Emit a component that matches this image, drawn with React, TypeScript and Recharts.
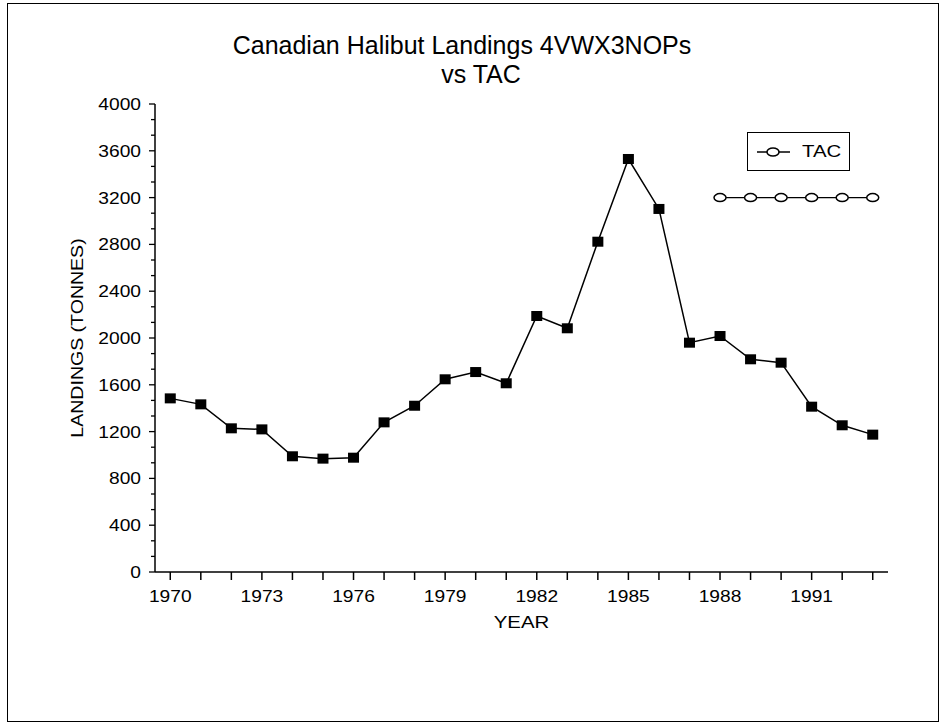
import React from "react";
import { LineChart, Line, XAxis, YAxis, Legend, Label } from "recharts";

const years = [1970, 1971, 1972, 1973, 1974, 1975, 1976, 1977, 1978, 1979, 1980, 1981, 1982, 1983, 1984, 1985, 1986, 1987, 1988, 1989, 1990, 1991, 1992, 1993];
const landings = [1484, 1433, 1228, 1219, 989, 969, 977, 1279, 1421, 1647, 1709, 1613, 2188, 2083, 2823, 3530, 3103, 1960, 2017, 1818, 1789, 1413, 1254, 1174];
const tacYears = [1988, 1989, 1990, 1991, 1992, 1993];
const tacValues = [3200, 3200, 3200, 3200, 3200, 3200];
const xLabelYears = [1970, 1973, 1976, 1979, 1982, 1985, 1988, 1991];
const yMajorTicks = [0, 400, 800, 1200, 1600, 2000, 2400, 2800, 3200, 3600, 4000];
const titleLines = ["Canadian Halibut Landings 4VWX3NOPs", "vs TAC"];

const FONT = "'Liberation Sans', Arial, Helvetica, sans-serif";
const STRETCH = 1.2;

const data = years.map((y, i) => {
  const ti = tacYears.indexOf(y);
  return { year: y, landings: landings[i], tac: ti >= 0 ? tacValues[ti] : undefined };
});

const yTicksAll: number[] = [];
for (let i = 0; i < yMajorTicks.length; i++) {
  yTicksAll.push(yMajorTicks[i]);
  if (i < yMajorTicks.length - 1) {
    const step = (yMajorTicks[i + 1] - yMajorTicks[i]) / 3;
    yTicksAll.push(yMajorTicks[i] + step, yMajorTicks[i] + 2 * step);
  }
}

const XTick = (props: any) => {
  const { x, y, payload } = props;
  const show = xLabelYears.includes(payload.value);
  return (
    <g>
      <line x1={x} y1={y} x2={x} y2={y + 8} stroke="#000" strokeWidth={1.5} />
      {show && (
        <text
          transform={`translate(${x}, ${y + 30}) scale(1.13, 1)`}
          x={0}
          y={0}
          textAnchor="middle"
          fontSize={17}
          fontFamily={FONT}
          fill="#000"
        >
          {payload.value}
        </text>
      )}
    </g>
  );
};

const YTick = (props: any) => {
  const { x, y, payload } = props;
  const major = yMajorTicks.includes(payload.value);
  return (
    <g>
      <line x1={x - (major ? 6 : 4)} y1={y} x2={x} y2={y} stroke="#000" strokeWidth={1.3} />
      {major && (
        <text
          transform={`translate(${x - 14}, ${y + 6}) scale(${STRETCH}, 1)`}
          x={0}
          y={0}
          textAnchor="end"
          fontSize={16}
          fontFamily={FONT}
          fill="#000"
        >
          {payload.value}
        </text>
      )}
    </g>
  );
};

const SquareDot = (props: any) => {
  const { cx, cy, index } = props;
  if (cx == null || cy == null) return <g key={index} />;
  return <rect key={index} x={cx - 5.5} y={cy - 5} width={11} height={10} fill="#000" />;
};

const CircleDot = (props: any) => {
  const { cx, cy, index } = props;
  if (cx == null || cy == null) return <g key={index} />;
  return <ellipse key={index} cx={cx} cy={cy} rx={6} ry={4} fill="#fff" stroke="#000" strokeWidth={1.5} />;
};

const LegendBox = () => (
  <div
    style={{
      width: 101,
      height: 37,
      border: "1.5px solid #000",
      background: "#fff",
      display: "flex",
      alignItems: "center",
      boxSizing: "content-box",
    }}
  >
    <svg width={44} height={37}>
      <line x1={9} y1={19} x2={42} y2={19} stroke="#000" strokeWidth={1.3} />
      <ellipse cx={25} cy={19} rx={6} ry={4} fill="#fff" stroke="#000" strokeWidth={1.5} />
    </svg>
    <span
      style={{
        fontFamily: FONT,
        fontSize: 17,
        color: "#000",
        marginLeft: 10,
        display: "inline-block",
        transform: `scaleX(${STRETCH})`,
        transformOrigin: "left center",
      }}
    >
      TAC
    </span>
  </div>
);

const titleStyle: React.CSSProperties = {
  position: "absolute",
  width: 600,
  textAlign: "center",
  fontFamily: FONT,
  fontSize: 25,
  lineHeight: "25px",
  color: "#000",
  whiteSpace: "nowrap",
};

export default function App() {
  return (
    <div style={{ position: "absolute", left: 0, top: 0, width: 940, height: 725, background: "#fff" }}>
      <div
        style={{
          position: "absolute",
          left: 7,
          top: 3,
          width: 932,
          height: 719,
          border: "1.5px solid #000",
          boxSizing: "border-box",
        }}
      />
      <div style={{ ...titleStyle, left: 462 - 300, top: 33 }}>{titleLines[0]}</div>
      <div style={{ ...titleStyle, left: 481 - 300, top: 62 }}>{titleLines[1]}</div>
      <div style={{ position: "absolute", left: 0, top: 0 }}>
        <LineChart width={940} height={725} data={data} margin={{ top: 104, right: 52, left: 95, bottom: 123 }}>
          <XAxis
            dataKey="year"
            type="number"
            domain={[1969.5, 1993.5]}
            ticks={years}
            interval={0}
            tickSize={0}
            tickMargin={0}
            tickLine={false}
            tick={<XTick />}
            axisLine={{ stroke: "#000", strokeWidth: 1.5 }}
            height={30}
          >
            <Label
              content={(p: any) => {
                const vb = p.viewBox;
                const cx = vb.x + vb.width / 2;
                return (
                  <text
                    transform={`translate(${cx}, ${vb.y + 56}) scale(${STRETCH}, 1)`}
                    x={0}
                    y={0}
                    textAnchor="middle"
                    fontSize={17}
                    fontFamily={FONT}
                    fill="#000"
                  >
                    YEAR
                  </text>
                );
              }}
            />
          </XAxis>
          <XAxis
            xAxisId="top"
            orientation="top"
            dataKey="year"
            type="number"
            domain={[1969.5, 1993.5]}
            height={0}
            tick={false}
            tickLine={false}
            axisLine={{ stroke: "#000", strokeWidth: 1.5 }}
          />
          <YAxis
            type="number"
            domain={[0, 4000]}
            ticks={yTicksAll}
            interval={0}
            tickSize={0}
            tickMargin={0}
            tickLine={false}
            tick={<YTick />}
            axisLine={{ stroke: "#000", strokeWidth: 1.5 }}
            width={60}
          >
            <Label
              content={(p: any) => {
                const vb = p.viewBox;
                const cx = 77;
                const cy = vb.y + vb.height / 2;
                return (
                  <text
                    transform={`translate(${cx}, ${cy}) rotate(-90) scale(1.15, 1)`}
                    x={0}
                    y={0}
                    textAnchor="middle"
                    dominantBaseline="central"
                    fontSize={17}
                    fontFamily={FONT}
                    fill="#000"
                  >
                    LANDINGS (TONNES)
                  </text>
                );
              }}
            />
          </YAxis>
          <YAxis
            yAxisId="right"
            orientation="right"
            type="number"
            domain={[0, 4000]}
            width={0}
            tick={false}
            tickLine={false}
            axisLine={{ stroke: "#000", strokeWidth: 1.5 }}
          />
          <Legend
            layout="vertical"
            align="center"
            verticalAlign="middle"
            content={<LegendBox />}
            wrapperStyle={{ position: "absolute", left: 747, top: 132, width: 104, height: 40 }}
          />
          <Line
            dataKey="landings"
            name="Landings"
            stroke="#000"
            strokeWidth={1.5}
            dot={<SquareDot />}
            activeDot={false}
            isAnimationActive={false}
            legendType="none"
          />
          <Line
            dataKey="tac"
            name="TAC"
            stroke="#000"
            strokeWidth={1.3}
            dot={<CircleDot />}
            activeDot={false}
            isAnimationActive={false}
            connectNulls={false}
          />
        </LineChart>
      </div>
    </div>
  );
}
